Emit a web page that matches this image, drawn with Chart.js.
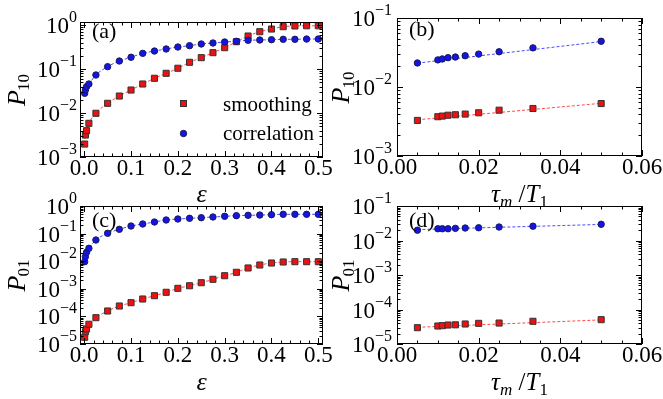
<!DOCTYPE html>
<html>
<head>
<meta charset="utf-8">
<script src="https://cdn.jsdelivr.net/npm/chart.js@4/dist/chart.umd.min.js"></script>
<style>
  body { margin: 0; background: #fff; }
  canvas { position: absolute; left: 0; top: 0; }
</style>
</head>
<body>
<canvas id="pa" width="663" height="399"></canvas>
<canvas id="pb" width="663" height="399"></canvas>
<canvas id="pc" width="663" height="399"></canvas>
<canvas id="pd" width="663" height="399"></canvas>
<script>
// x values
const epsX = [0.001, 0.0025, 0.005, 0.01, 0.025, 0.05, 0.075, 0.1, 0.125, 0.15, 0.175, 0.2,
  0.225, 0.25, 0.275, 0.3, 0.325, 0.35, 0.375, 0.4, 0.425, 0.45, 0.475, 0.5]
const tauX = [0.005, 0.01, 0.0111, 0.0125, 0.0143, 0.0167, 0.02, 0.025, 0.0333, 0.05]

// (a) P10 vs eps
const smoothA = [0.00197, 0.00316, 0.00396, 0.00583, 0.00985, 0.0166, 0.0243, 0.0333, 0.0456, 0.0615,
  0.0798, 0.104, 0.142, 0.181, 0.235, 0.305, 0.417, 0.562, 0.705, 0.81, 0.915, 0.95, 0.96, 0.96]
const corrA = [0.028, 0.0333, 0.0396, 0.0456, 0.073, 0.113, 0.152, 0.185, 0.227, 0.256, 0.285, 0.316,
  0.339, 0.37, 0.39, 0.411, 0.426, 0.449, 0.456, 0.463, 0.473, 0.473, 0.48, 0.48]

// (b) P10 vs tau_m/T1
const smoothB = [0.00328, 0.00371, 0.00379, 0.0039, 0.00396, 0.00405, 0.00423, 0.00461, 0.00488, 0.00576]
const corrB = [0.0223, 0.0247, 0.0255, 0.0266, 0.0272, 0.0284, 0.030, 0.0324, 0.0369, 0.046]
const fitSmoothB = [0.00335, 0.0058]
const fitCorrB = [0.0222, 0.0455]

// (c) P01 vs eps
const smoothC = [1.75e-5, 2.79e-5, 3.5e-5, 5.18e-5, 8.98e-5, 1.57e-4, 2.38e-4, 3.14e-4, 4.27e-4, 5.62e-4,
  7.47e-4, 1.04e-3, 1.29e-3, 1.66e-3, 2.21e-3, 2.98e-3, 3.96e-3, 5.68e-3, 7.28e-3, 8.6e-3,
  9.35e-3, 9.6e-3, 9.6e-3, 9.6e-3]
const corrC = [0.0096, 0.0146, 0.021, 0.0293, 0.0586, 0.1025, 0.143, 0.188, 0.223, 0.263, 0.311, 0.338,
  0.358, 0.377, 0.40, 0.423, 0.446, 0.46, 0.47, 0.484, 0.5, 0.5, 0.5, 0.5]

// (d) P01 vs tau_m/T1
const smoothD = [2.97e-5, 3.32e-5, 3.4e-5, 3.55e-5, 3.6e-5, 3.8e-5, 3.97e-5, 4.05e-5, 4.55e-5, 5.07e-5]
const corrD = [0.0199, 0.0219, 0.0219, 0.0219, 0.0225, 0.023, 0.0234, 0.0246, 0.026, 0.0295]
const fitSmoothD = [3.05e-5, 5.0e-5]
const fitCorrD = [0.0207, 0.0292]

// ticks
const epsTicks = [0, 0.1, 0.2, 0.3, 0.4, 0.5]
const epsLabels = ['0.0', '0.1', '0.2', '0.3', '0.4', '0.5']
const tauTicks = [0, 0.02, 0.04, 0.06]
const tauLabels = ['0.00', '0.02', '0.04', '0.06']
const decA = [-3, -2, -1, 0]
const decB = [-3, -2, -1]
const decC = [-5, -4, -3, -2, -1, 0]
const decD = [-5, -4, -3, -2, -1]

const SERIF = '"Liberation Serif", "Times New Roman", serif'
const RED = '#ee1111', BLUE = '#1414e6'

const panels = {
  pa: { box: [80, 22, 323, 157], xr: [-0.009, 0.51], yr: [1e-3, 1.17], xTicks: epsTicks, xLabels: epsLabels,
    xMinor: 0.02, dec: decA, gap: 3, tag: '(a)', tagX: 92, tagY: 38, sub: '10', yTitleX: 24.5, xTitle: 'eps', xTitleY: 202, legend: true },
  pb: { box: [397, 18, 642, 156], xr: [0, 0.06], yr: [1e-3, 1e-1], xTicks: tauTicks, xLabels: tauLabels,
    xMinor: 0.005, dec: decB, gap: 5, tag: '(b)', tagX: 409, tagY: 36, sub: '10', yTitleX: 349, xTitle: 'tau', xTitleY: 202 },
  pc: { box: [80, 206, 323, 344], xr: [-0.009, 0.51], yr: [1e-5, 1], xTicks: epsTicks, xLabels: epsLabels,
    xMinor: 0.02, dec: decC, gap: 3, tag: '(c)', tagX: 92, tagY: 227, sub: '01', yTitleX: 24.5, xTitle: 'eps', xTitleY: 390 },
  pd: { box: [397, 206, 642, 344], xr: [0, 0.06], yr: [1e-5, 1e-1], xTicks: tauTicks, xLabels: tauLabels,
    xMinor: 0.005, dec: decD, gap: 5, tag: '(d)', tagX: 409, tagY: 227, sub: '01', yTitleX: 349, xTitle: 'tau', xTitleY: 390 },
}

function txt(ctx, s, x, y, font) {
  ctx.font = font
  ctx.fillText(s, x, y)
  return ctx.measureText(s).width
}

const framePlugin = {
  id: 'frame',
  afterDatasetsDraw(chart) {
    const p = panels[chart.canvas.id]
    const ctx = chart.ctx
    const { left, right, top, bottom } = chart.chartArea
    const sx = chart.scales.x, sy = chart.scales.y
    ctx.save()
    ctx.strokeStyle = '#000'
    ctx.fillStyle = '#000'
    ctx.lineWidth = 1
    ctx.strokeRect(left + 0.5, top + 0.5, right - left - 1, bottom - top - 1)

    ctx.beginPath()
    // x ticks, bottom and top
    const x0 = Math.ceil(p.xr[0] / p.xMinor - 1e-6), x1 = Math.floor(p.xr[1] / p.xMinor + 1e-6)
    for (let k = x0; k <= x1; k++) {
      const v = k * p.xMinor
      const major = p.xTicks.some(t => Math.abs(t - v) < 1e-9)
      const len = major ? 6 : 3.5
      const px = Math.round(sx.getPixelForValue(v)) + 0.5
      ctx.moveTo(px, bottom); ctx.lineTo(px, bottom - len)
      ctx.moveTo(px, top); ctx.lineTo(px, top + len)
    }
    // y ticks, log minor ones
    const lo = Math.floor(Math.log10(p.yr[0])), hi = Math.ceil(Math.log10(p.yr[1]))
    for (let d = lo; d <= hi; d++) {
      for (let m = 1; m <= 9; m++) {
        const v = m * Math.pow(10, d)
        if (v < p.yr[0] * 0.999 || v > p.yr[1] * 1.001) continue
        const len = m === 1 ? 6 : 3.5
        const py = Math.round(sy.getPixelForValue(v)) + 0.5
        ctx.moveTo(left, py); ctx.lineTo(left + len, py)
        ctx.moveTo(right, py); ctx.lineTo(right - len, py)
      }
    }
    ctx.stroke()

    // x tick labels
    ctx.textAlign = 'center'
    ctx.textBaseline = 'alphabetic'
    ctx.font = '23px ' + SERIF
    p.xTicks.forEach((t, i) => ctx.fillText(p.xLabels[i], sx.getPixelForValue(t), bottom + 18))

    // y tick labels 10^n
    ctx.textAlign = 'left'
    p.dec.forEach(n => {
      const py = sy.getPixelForValue(Math.pow(10, n))
      const ex = n < 0 ? '\u2212' + (-n) : String(n)
      ctx.font = '23px ' + SERIF
      const w1 = ctx.measureText('10').width
      ctx.font = '16px ' + SERIF
      const w2 = ctx.measureText(ex).width
      const xs = left - p.gap - w1 - w2
      txt(ctx, '10', xs, py + 8, '23px ' + SERIF)
      txt(ctx, ex, xs + w1, py - 3, '16px ' + SERIF)
    })

    // panel tag
    txt(ctx, p.tag, p.tagX, p.tagY, '22px ' + SERIF)

    // x title
    const cx = (left + right) / 2
    if (p.xTitle === 'eps') {
      ctx.textAlign = 'center'
      txt(ctx, '\u03b5', cx, p.xTitleY, 'italic 26px ' + SERIF)
    } else {
      const parts = [['\u03c4', 'italic 25px ', 0], ['m', 'italic 17px ', 5], [' /', '25px ', 0],
        ['T', 'italic 25px ', 0], ['1', '17px ', 5]]
      let w = 0
      parts.forEach(q => { ctx.font = q[1] + SERIF; w += ctx.measureText(q[0]).width })
      let x = cx - w / 2
      ctx.textAlign = 'left'
      parts.forEach(q => { x += txt(ctx, q[0], x, p.xTitleY + q[2], q[1] + SERIF) })
    }
    ctx.textAlign = 'left'

    // y title, rotated
    ctx.save()
    ctx.translate(p.yTitleX, (top + bottom) / 2)
    ctx.rotate(-Math.PI / 2)
    ctx.font = 'italic 26px ' + SERIF
    const wP = ctx.measureText('P').width
    ctx.font = '17px ' + SERIF
    const wS = ctx.measureText(p.sub).width
    txt(ctx, 'P', -(wP + wS) / 2, 0, 'italic 26px ' + SERIF)
    txt(ctx, p.sub, -(wP + wS) / 2 + wP - 1, 4.5, '17px ' + SERIF)
    ctx.restore()

    // legend
    if (p.legend) {
      ctx.fillStyle = RED
      ctx.strokeStyle = '#333'
      ctx.lineWidth = 1
      ctx.fillRect(180.5, 100.5, 6, 6)
      ctx.strokeRect(180.5, 100.5, 6, 6)
      ctx.fillStyle = BLUE
      ctx.strokeStyle = '#1a1a55'
      ctx.beginPath()
      ctx.arc(183.5, 133.5, 3.2, 0, Math.PI * 2)
      ctx.fill(); ctx.stroke()
      ctx.fillStyle = '#000'
      txt(ctx, 'smoothing', 223, 111, '21px ' + SERIF)
      txt(ctx, 'correlation', 223, 140, '21px ' + SERIF)
    }
    ctx.restore()
  }
}

function pts(xs, ys) {
  return xs.map((x, i) => ({ x: x, y: ys[i] }))
}

function markers(data, red, line) {
  return {
    data: data,
    showLine: line,
    borderColor: red ? '#ff4a4a' : '#4a4aff',
    borderWidth: 1,
    borderDash: [3, 2],
    cubicInterpolationMode: 'monotone',
    pointStyle: red ? 'rect' : 'circle',
    pointRadius: red ? 4.3 : 3.2,
    pointBackgroundColor: red ? RED : BLUE,
    pointBorderColor: red ? '#333' : '#1a1a55',
    pointBorderWidth: 1,
    clip: false,
  }
}

function fitLine(xs, ys, red) {
  return {
    data: [{ x: xs[0], y: ys[0] }, { x: xs[xs.length - 1], y: ys[1] }],
    showLine: true,
    borderColor: red ? '#ff4a4a' : '#4a4aff',
    borderWidth: 1,
    borderDash: [3, 2],
    pointRadius: 0,
  }
}

function makeChart(id, datasets) {
  const p = panels[id]
  new Chart(document.getElementById(id), {
    type: 'scatter',
    data: { datasets: datasets },
    options: {
      responsive: false,
      animation: false,
      layout: { padding: { left: p.box[0], top: p.box[1], right: 663 - p.box[2], bottom: 399 - p.box[3] } },
      plugins: { legend: { display: false }, tooltip: { enabled: false } },
      scales: {
        x: { type: 'linear', min: p.xr[0], max: p.xr[1], display: false },
        y: { type: 'logarithmic', min: p.yr[0], max: p.yr[1], display: false },
      },
    },
    plugins: [framePlugin],
  })
}

makeChart('pa', [markers(pts(epsX, corrA), false, true), markers(pts(epsX, smoothA), true, true)])
makeChart('pb', [markers(pts(tauX, corrB), false, false), markers(pts(tauX, smoothB), true, false),
  fitLine(tauX, fitCorrB, false), fitLine(tauX, fitSmoothB, true)])
makeChart('pc', [markers(pts(epsX, corrC), false, true), markers(pts(epsX, smoothC), true, true)])
makeChart('pd', [markers(pts(tauX, corrD), false, false), markers(pts(tauX, smoothD), true, false),
  fitLine(tauX, fitCorrD, false), fitLine(tauX, fitSmoothD, true)])
</script>
</body>
</html>
